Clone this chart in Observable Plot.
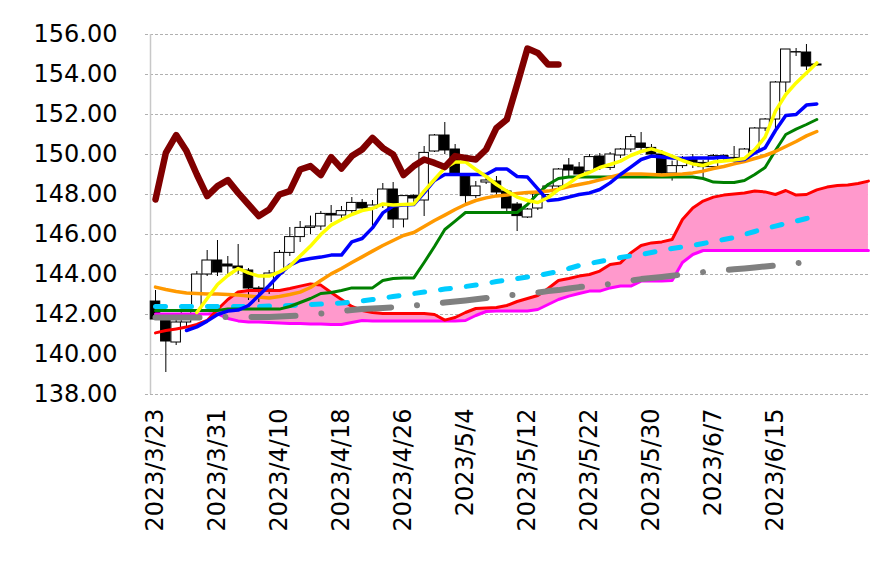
<!DOCTYPE html>
<html><head><meta charset="utf-8">
<script src="https://cdn.jsdelivr.net/npm/d3@7"></script>
<script src="https://cdn.jsdelivr.net/npm/@observablehq/plot@0.6"></script>
<style>html,body{margin:0;padding:0;background:#fff;} svg{display:block}</style>
</head><body><div id="chart"></div>
<script>
const dates = ["2023/3/23","2023/3/24","2023/3/27","2023/3/28","2023/3/29","2023/3/30","2023/3/31",
"2023/4/3","2023/4/4","2023/4/5","2023/4/6","2023/4/7","2023/4/10","2023/4/11","2023/4/12","2023/4/13","2023/4/14","2023/4/17","2023/4/18","2023/4/19","2023/4/20","2023/4/21","2023/4/24","2023/4/25","2023/4/26","2023/4/27","2023/4/28",
"2023/5/1","2023/5/2","2023/5/3","2023/5/4","2023/5/5","2023/5/8","2023/5/9","2023/5/10","2023/5/11","2023/5/12","2023/5/15","2023/5/16","2023/5/17","2023/5/18","2023/5/19","2023/5/22","2023/5/23","2023/5/24","2023/5/25","2023/5/26","2023/5/29","2023/5/30","2023/5/31",
"2023/6/1","2023/6/2","2023/6/5","2023/6/6","2023/6/7","2023/6/8","2023/6/9","2023/6/12","2023/6/13","2023/6/14","2023/6/15","2023/6/16","2023/6/19","2023/6/20","2023/6/21"];

const opens = [142.65,141.7,140.6,141.6,142.2,144.0,144.7,144.5,144.4,144.2,143.3,143.25,144.05,145.08,145.87,146.33,146.4,147.03,146.95,147.17,147.58,147.3,147.45,148.25,146.75,147.92,147.7,150.15,150.95,150.25,148.9,147.92,148.6,148.65,148.15,147.5,146.85,147.3,147.97,148.4,149.45,149.35,149.15,149.9,149.33,149.95,150.25,150.55,150.33,150.0,149.05,149.42,149.75,149.58,149.37,149.92,149.83,149.75,150.15,151.3,151.75,153.6,155.1,155.1,154.45];
const highs = [143.2,142.0,141.9,142.3,144.15,145.2,145.7,144.9,145.5,144.3,143.4,144.2,145.2,146.35,146.65,146.92,147.15,147.45,147.4,147.85,147.75,147.7,148.55,148.6,147.95,148.0,150.4,151.0,151.6,150.5,149.0,148.65,148.8,148.9,148.25,147.6,147.3,148.05,148.55,149.3,149.8,149.6,150.0,150.05,150.1,150.3,151.0,151.1,150.5,150.2,149.67,149.9,150.0,149.7,150.0,150.0,150.4,150.3,151.35,151.8,153.65,155.25,155.3,155.5,154.5];
const lows = [141.7,139.1,140.45,141.4,142.0,143.9,143.9,144.0,144.0,142.7,142.6,143.0,143.9,144.9,145.6,146.0,146.2,146.6,146.8,147.0,147.1,146.35,147.3,146.3,146.33,147.6,146.9,150.1,150.0,149.0,147.4,147.8,148.5,147.9,147.1,146.15,146.8,147.2,147.9,148.2,148.9,148.9,149.1,149.2,149.2,149.8,150.1,150.2,149.9,148.9,148.67,149.3,149.3,148.7,149.2,149.7,149.6,149.7,150.1,151.15,151.2,153.1,154.9,154.2,154.4];
const closes = [141.75,140.65,141.6,142.2,144.0,144.7,144.1,144.4,144.3,143.3,143.25,144.05,145.08,145.87,146.33,146.4,147.03,146.95,147.17,147.58,147.3,147.45,148.25,146.75,147.92,147.8,150.08,150.95,150.2,149.05,147.92,148.4,148.7,148.1,147.3,146.92,147.25,148.0,148.4,149.25,149.2,149.0,149.87,149.33,150.0,150.25,150.87,150.33,150.0,149.05,149.42,149.75,149.58,149.37,149.92,149.83,149.75,150.25,151.3,151.75,153.6,155.25,155.12,154.4,154.5];

// yellow
const ma5 = [null,null,null,null,142.1,142.8,143.5,143.95,144.3,144.08,143.92,143.92,144.13,144.42,144.92,145.42,146.0,146.47,146.75,147.0,147.2,147.3,147.53,147.47,147.5,147.53,148.17,148.75,149.33,149.63,149.63,149.25,148.9,148.5,148.17,147.87,147.7,147.6,147.85,148.25,148.55,148.92,149.1,149.35,149.5,149.67,149.95,150.15,150.28,150.12,149.92,149.7,149.53,149.45,149.62,149.68,149.72,149.8,150.25,150.87,152.17,153.0,153.58,154.08,154.58];
// blue
const tenkan = [null,null,null,141.2,141.38,141.67,142.0,142.17,142.22,142.45,142.95,143.45,144.0,144.47,144.7,144.8,144.87,144.97,144.97,145.63,145.8,146.33,147.08,147.42,147.47,147.5,148.08,148.7,149.0,149.0,149.0,149.0,149.0,149.28,149.28,148.9,148.87,148.28,147.7,147.75,147.87,148.0,148.08,148.25,148.58,149.0,149.37,149.75,149.92,149.87,149.83,149.8,149.82,149.83,149.83,149.87,149.7,149.75,150.08,150.33,151.2,151.95,152.0,152.47,152.53];
// green
const kijun = [142.2,142.2,142.2,142.2,142.2,142.2,142.2,142.27,142.27,142.27,142.27,142.27,142.27,142.4,142.6,142.8,143.05,143.1,143.2,143.33,143.33,143.33,143.7,143.8,143.83,143.83,144.6,145.4,146.25,146.67,147.1,147.1,147.1,147.1,147.1,147.1,147.5,148.05,148.5,148.8,148.88,148.88,148.88,148.88,148.88,148.88,148.88,148.88,148.88,148.88,148.88,148.88,148.88,148.8,148.62,148.6,148.6,148.7,149.0,149.35,150.2,151.0,151.27,151.5,151.75];
// orange
const ma25 = [143.37,143.25,143.15,143.08,143.05,143.03,143.02,143.0,142.97,142.93,142.87,142.83,142.9,143.0,143.12,143.35,143.7,144.03,144.3,144.6,144.88,145.17,145.45,145.7,145.95,146.1,146.4,146.7,146.97,147.25,147.5,147.7,147.83,147.93,147.98,148.05,148.1,148.13,148.17,148.27,148.4,148.5,148.6,148.73,148.87,149.0,149.02,149.03,149.0,148.97,149.0,149.03,149.08,149.17,149.3,149.4,149.53,149.65,149.8,149.95,150.15,150.4,150.65,150.93,151.15];
// dark red (lagging span)
const chikou = [147.75,150.08,150.97,150.17,149.0,147.92,148.42,148.72,148.08,147.5,146.92,147.25,148.0,148.17,149.25,149.42,148.97,149.87,149.3,149.92,150.25,150.83,150.33,150.0,148.97,149.42,149.75,149.58,149.37,149.92,149.83,149.75,150.25,151.33,151.75,153.5,155.3,155.08,154.5,154.5];
// red (leading span A)
const spanA = [141.08,141.2,141.28,141.37,141.5,141.7,142.25,142.75,143.13,143.2,143.2,143.2,143.2,143.3,143.42,143.53,143.47,143.1,142.75,142.4,142.2,142.1,142.05,142.05,142.05,142.05,142.05,142.0,141.72,141.85,142.1,142.3,142.33,142.35,142.45,142.65,142.8,142.95,143.3,143.7,143.8,143.92,144.0,144.17,144.5,144.58,145.08,145.45,145.58,145.63,145.75,146.75,147.33,147.67,147.87,147.97,148.03,148.08,148.17,148.13,148.0,148.2,147.97,148.0,148.23,148.37,148.45,148.48,148.55,148.67];
// magenta (leading span B)
const spanB = [142.03,142.03,142.03,142.03,142.03,142.03,142.03,141.8,141.68,141.62,141.62,141.6,141.58,141.55,141.55,141.53,141.53,141.5,141.5,141.6,141.7,141.68,141.68,141.68,141.68,141.68,141.68,141.68,141.68,141.68,141.7,141.95,142.15,142.17,142.17,142.17,142.17,142.25,142.5,142.75,142.92,143.05,143.17,143.17,143.33,143.42,143.42,143.67,143.68,143.68,143.7,144.6,145.0,145.2,145.2,145.2,145.2,145.2,145.2,145.2,145.2,145.2,145.2,145.2,145.2,145.2,145.2,145.2,145.2,145.2];
// cyan dashed
const ma75 = [142.4,142.4,142.4,142.4,142.4,142.4,142.4,142.4,142.4,142.4,142.4,142.42,142.42,142.45,142.47,142.5,142.52,142.55,142.58,142.62,142.68,142.75,142.82,142.9,142.97,143.05,143.12,143.2,143.27,143.33,143.4,143.47,143.55,143.65,143.72,143.8,143.87,143.95,144.05,144.15,144.3,144.45,144.55,144.65,144.75,144.85,144.93,145.0,145.1,145.2,145.3,145.38,145.45,145.55,145.65,145.75,145.85,146.0,146.15,146.3,146.42,146.55,146.67,146.8,146.9];
// grey dash-dot
const ma200 = [141.85,141.85,141.85,141.85,141.85,141.85,141.87,141.87,141.87,141.87,141.88,141.88,141.9,141.92,141.95,142.0,142.05,142.1,142.17,142.23,142.27,142.3,142.33,142.36,142.4,142.45,142.5,142.55,142.6,142.65,142.7,142.76,142.82,142.9,142.95,143.0,143.05,143.1,143.17,143.22,143.3,143.37,143.42,143.47,143.53,143.6,143.7,143.77,143.82,143.88,143.94,144.0,144.05,144.12,144.18,144.22,144.26,144.3,144.35,144.4,144.45,144.5,144.56,144.62];

const yTicks = [138,140,142,144,146,148,150,152,154,156];
const xTickIdx = [0,6,12,18,24,30,36,42,48,54,60];
const xDomain = [-0.484, 69.2];

const candles = dates.map((d, i) => ({i, open: opens[i], high: highs[i], low: lows[i], close: closes[i]}));
const series = arr => arr.map((v, i) => ({i, v})).filter(d => d.v != null);
const cloud = spanA.map((a, i) => ({i, a, b: spanB[i]}));
const L = (arr, o) => Plot.lineY(series(arr), {x: "i", y: "v", strokeLinejoin: "round", ...o});

const chart = Plot.plot({
  width: 871, height: 573,
  marginLeft: 150, marginRight: 1, marginTop: 34, marginBottom: 179,
  style: {fontFamily: "DejaVu Sans", fontSize: "24px", color: "#000", background: "#fff"},
  x: {type: "linear", domain: xDomain, label: null},
  y: {domain: [138, 156], label: null},
  marks: [
    Plot.ruleY(yTicks, {stroke: "#b0b0b0", strokeDasharray: "3,2", insetLeft: -5}),
    Plot.ruleX([xDomain[0]], {stroke: "#c8c8c8", strokeWidth: 1.5}),
    Plot.areaY(cloud, {x: "i", y1: "b", y2: d => Math.max(d.a, d.b), fill: "#ff99cc", curve: "linear"}),
    Plot.ruleX(candles, {x: "i", y1: "low", y2: "high", stroke: "#000", strokeWidth: 1}),
    Plot.rect(candles, {x1: d => d.i - 0.46, x2: d => d.i + 0.46, y1: "open", y2: "close",
      fill: d => d.close < d.open ? "#000000" : "#ffffff", stroke: "#000", strokeWidth: 1}),
    L(spanB, {stroke: "#ff00ff", strokeWidth: 3}),
    L(spanA, {stroke: "#ff0000", strokeWidth: 3}),
    L(ma200, {stroke: "#808080", strokeWidth: 6, strokeDasharray: "44,26,0.01,26", strokeLinecap: "round"}),
    L(ma75, {stroke: "#00ccff", strokeWidth: 5, strokeDasharray: "10,16", strokeLinecap: "round"}),
    L(kijun, {stroke: "#008000", strokeWidth: 3}),
    L(ma25, {stroke: "#ff9900", strokeWidth: 3.5}),
    L(tenkan, {stroke: "#0000ff", strokeWidth: 3.5}),
    L(ma5, {stroke: "#ffff00", strokeWidth: 3.5}),
    L(chikou, {stroke: "#800000", strokeWidth: 6.5}),
    Plot.axisY(yTicks, {anchor: "left", label: null, tickSize: 0, tickPadding: 33, tickFormat: d => d.toFixed(2)}),
    Plot.axisX(xTickIdx, {anchor: "bottom", label: null, tickSize: 0, tickPadding: 14, tickRotate: -90, tickFormat: i => dates[i]})
  ]
});
document.getElementById("chart").appendChild(chart);
</script>
</body></html>
